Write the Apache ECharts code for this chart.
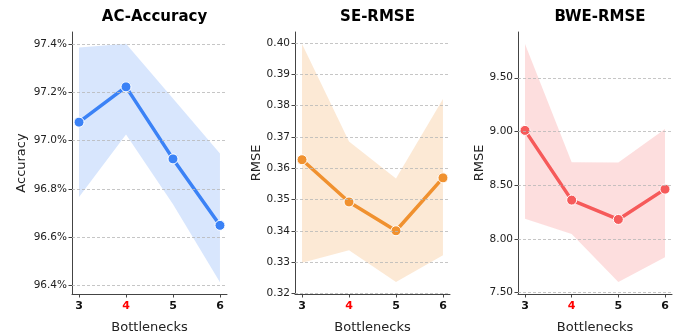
<!DOCTYPE html>
<html>
<head>
<meta charset="utf-8">
<script src="https://cdn.jsdelivr.net/npm/echarts@6/dist/echarts.min.js"></script>
<style>
  html, body { margin: 0; padding: 0; background: #fff; }
  #chart { width: 683px; height: 335px; }
</style>
</head>
<body>
<div id="chart"></div>
<script>
// Bottleneck counts on the x axis; the chosen setting is shown in red.
const bottlenecks = [3, 4, 5, 6];
const chosen = 4;

// AC accuracy (%) : mean and spread band
const acMean  = [97.076, 97.222, 96.924, 96.649];
const acUpper = [97.385, 97.400, 97.174, 96.946];
const acLower = [96.766, 97.025, 96.736, 96.414];
const acTicks = [96.4, 96.6, 96.8, 97.0, 97.2, 97.4];

// SE RMSE : mean and spread band
const seMean  = [0.3627, 0.3492, 0.3400, 0.3569];
const seUpper = [0.3997, 0.3685, 0.3567, 0.3821];
const seLower = [0.3298, 0.3338, 0.3236, 0.3322];
const seTicks = [0.32, 0.33, 0.34, 0.35, 0.36, 0.37, 0.38, 0.39, 0.40];

// BWE RMSE : mean and spread band
const bweMean  = [9.010, 8.361, 8.181, 8.463];
const bweUpper = [9.815, 8.713, 8.710, 9.024];
const bweLower = [8.188, 8.046, 7.598, 7.830];
const bweTicks = [7.5, 8.0, 8.5, 9.0, 9.5];

const FONT = 'DejaVu Sans';
const panels = [
  { title: 'AC-Accuracy', yName: 'Accuracy', mean: acMean, upper: acUpper, lower: acLower,
    ticks: acTicks, fmt: v => v.toFixed(1) + '%', color: '#3b82f6', range: [96.365, 97.449],
    left: 72, width: 155, nameGap: 44 },
  { title: 'SE-RMSE', yName: 'RMSE', mean: seMean, upper: seUpper, lower: seLower,
    ticks: seTicks, fmt: v => v.toFixed(2), color: '#f0912f', range: [0.3198, 0.4035],
    left: 295, width: 155, nameGap: 31 },
  { title: 'BWE-RMSE', yName: 'RMSE', mean: bweMean, upper: bweUpper, lower: bweLower,
    ticks: bweTicks, fmt: v => v.toFixed(2), color: '#f65a5a', range: [7.487, 9.926],
    left: 518, width: 154, nameGap: 31 }
];

const TOP = 32, HEIGHT = 262;
const option = { animation: false, title: [], grid: [], xAxis: [], yAxis: [], series: [] };

// Filled polygon between the lower and upper edges of the band.
function bandRenderer(p) {
  return function (params, api) {
    if (params.dataIndex !== 0) return null;
    const top = bottlenecks.map((x, k) => api.coord([x, p.upper[k]]));
    const bottom = bottlenecks.map((x, k) => api.coord([x, p.lower[k]])).reverse();
    return {
      type: 'polygon',
      shape: { points: top.concat(bottom) },
      style: { fill: p.color, opacity: 0.2 },
      silent: true
    };
  };
}

panels.forEach((p, i) => {
  option.title.push({
    text: p.title,
    left: p.left + p.width / 2, top: 5, textAlign: 'center',
    textStyle: { fontFamily: FONT, fontWeight: 'bold', fontSize: 15, color: '#000' }
  });
  option.grid.push({
    left: p.left, top: TOP, width: p.width, height: HEIGHT,
    containLabel: false, outerBoundsMode: 'none'
  });
  option.xAxis.push({
    type: 'value', gridIndex: i, min: 2.85, max: 6.15,
    name: 'Bottlenecks', nameLocation: 'middle', nameGap: 27,
    nameTextStyle: { fontFamily: FONT, fontSize: 13, color: '#222' },
    axisLine: { show: true, lineStyle: { color: '#444', width: 1 } },
    axisTick: { show: true, customValues: bottlenecks, length: 3.5, lineStyle: { color: '#444' } },
    axisLabel: {
      customValues: bottlenecks, margin: 7,
      fontFamily: FONT, fontWeight: 'bold', fontSize: 11, color: '#111',
      formatter: v => (v === chosen ? '{hl|' + v + '}' : String(v)),
      rich: { hl: { color: '#ff0000', fontFamily: FONT, fontWeight: 'bold', fontSize: 11 } }
    },
    splitLine: { show: false }
  });
  option.yAxis.push({
    type: 'value', gridIndex: i, min: p.range[0], max: p.range[1],
    name: p.yName, nameLocation: 'middle', nameGap: p.nameGap,
    nameTextStyle: { fontFamily: FONT, fontSize: 13, color: '#222' },
    axisLine: { show: true, lineStyle: { color: '#444', width: 1 } },
    axisTick: { show: true, customValues: p.ticks, length: 3.5, lineStyle: { color: '#444' } },
    axisLabel: { customValues: p.ticks, margin: 5, fontFamily: FONT, fontSize: 10.5, color: '#222', formatter: p.fmt },
    splitLine: { show: false }
  });

  // dashed horizontal grid at each y tick
  option.series.push({
    type: 'line', xAxisIndex: i, yAxisIndex: i, data: [],
    silent: true, z: 0,
    markLine: {
      silent: true, symbol: 'none', label: { show: false }, animation: false,
      lineStyle: { color: '#b8b8b8', type: [3, 2], width: 0.8 },
      data: p.ticks.map(t => ({ yAxis: t }))
    }
  });
  // spread band
  option.series.push({
    type: 'custom', xAxisIndex: i, yAxisIndex: i,
    data: bottlenecks.map((x, k) => [x, p.lower[k], p.upper[k]]),
    encode: { x: 0, y: [1, 2] },
    renderItem: bandRenderer(p), silent: true, z: 1
  });
  // mean curve
  option.series.push({
    type: 'line', xAxisIndex: i, yAxisIndex: i,
    data: bottlenecks.map((x, k) => [x, p.mean[k]]),
    lineStyle: { color: p.color, width: 3.5 },
    symbol: 'circle', symbolSize: 10,
    itemStyle: { color: p.color, borderColor: '#fff', borderWidth: 1 },
    z: 3
  });
});

const chart = echarts.init(document.getElementById('chart'), null, { renderer: 'canvas' });
chart.setOption(option);
</script>
</body>
</html>
